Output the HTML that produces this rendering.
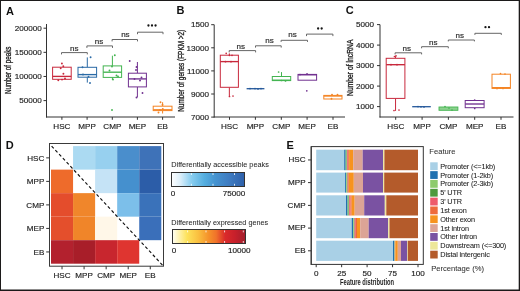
<!DOCTYPE html><html><head><meta charset="utf-8"><style>html,body{margin:0;padding:0;background:#fff;}svg{display:block;will-change:transform;}</style></head><body>
<svg width="520" height="291" viewBox="0 0 520 291" font-family='"Liberation Sans", sans-serif'>
<rect x="0.00" y="0.00" width="520.00" height="291.00" fill="white" stroke="none" stroke-width="1" />
<text x="5.9" y="14.5" font-size="11" font-weight="bold" fill="#111">A</text>
<text x="176.4" y="14.1" font-size="11" font-weight="bold" fill="#111">B</text>
<text x="345.8" y="14.1" font-size="11" font-weight="bold" fill="#111">C</text>
<text x="5.8" y="149.2" font-size="11" font-weight="bold" fill="#111">D</text>
<text x="286.6" y="148.9" font-size="11" font-weight="bold" fill="#111">E</text>
<line x1="46.5" y1="24" x2="46.5" y2="117.5" stroke="#333333" stroke-width="1" />
<line x1="46.0" y1="117" x2="175" y2="117" stroke="#333333" stroke-width="1" />
<line x1="43.5" y1="28.2" x2="46.5" y2="28.2" stroke="#333333" stroke-width="1" />
<text x="41.80" y="30.99" font-size="8.1" text-anchor="end" fill="#262626" font-weight="normal" stroke="#262626" stroke-width="0.18" >200000</text>
<line x1="43.5" y1="52.333333333333336" x2="46.5" y2="52.333333333333336" stroke="#333333" stroke-width="1" />
<text x="41.80" y="55.13" font-size="8.1" text-anchor="end" fill="#262626" font-weight="normal" stroke="#262626" stroke-width="0.18" >150000</text>
<line x1="43.5" y1="76.46666666666667" x2="46.5" y2="76.46666666666667" stroke="#333333" stroke-width="1" />
<text x="41.80" y="79.26" font-size="8.1" text-anchor="end" fill="#262626" font-weight="normal" stroke="#262626" stroke-width="0.18" >100000</text>
<line x1="43.5" y1="100.60000000000001" x2="46.5" y2="100.60000000000001" stroke="#333333" stroke-width="1" />
<text x="41.80" y="103.39" font-size="8.1" text-anchor="end" fill="#262626" font-weight="normal" stroke="#262626" stroke-width="0.18" >50000</text>
<line x1="61.9" y1="117" x2="61.9" y2="119.8" stroke="#333333" stroke-width="1" />
<text x="61.90" y="128.79" font-size="8.1" text-anchor="middle" fill="#262626" font-weight="normal" stroke="#262626" stroke-width="0.18" >HSC</text>
<line x1="87.1" y1="117" x2="87.1" y2="119.8" stroke="#333333" stroke-width="1" />
<text x="87.10" y="128.79" font-size="8.1" text-anchor="middle" fill="#262626" font-weight="normal" stroke="#262626" stroke-width="0.18" >MPP</text>
<line x1="112.3" y1="117" x2="112.3" y2="119.8" stroke="#333333" stroke-width="1" />
<text x="112.30" y="128.79" font-size="8.1" text-anchor="middle" fill="#262626" font-weight="normal" stroke="#262626" stroke-width="0.18" >CMP</text>
<line x1="137.4" y1="117" x2="137.4" y2="119.8" stroke="#333333" stroke-width="1" />
<text x="137.40" y="128.79" font-size="8.1" text-anchor="middle" fill="#262626" font-weight="normal" stroke="#262626" stroke-width="0.18" >MEP</text>
<line x1="162.6" y1="117" x2="162.6" y2="119.8" stroke="#333333" stroke-width="1" />
<text x="162.60" y="128.79" font-size="8.1" text-anchor="middle" fill="#262626" font-weight="normal" stroke="#262626" stroke-width="0.18" >EB</text>
<text transform="translate(11.20,70.30) rotate(-90)" x="0" y="0" font-size="8.2" text-anchor="middle" fill="#1c1c1c" stroke="#1c1c1c" stroke-width="0.3" textLength="47.6" lengthAdjust="spacingAndGlyphs">Number of peaks</text>
<rect x="52.60" y="67.20" width="18.60" height="12.10" fill="white" stroke="#C8283C" stroke-width="1.0" />
<line x1="52.6" y1="76.4" x2="71.2" y2="76.4" stroke="#C8283C" stroke-width="1.35" />
<circle cx="61.9" cy="63.5" r="0.95" fill="#C8283C"/>
<circle cx="63.3" cy="66.3" r="0.95" fill="#C8283C"/>
<circle cx="60.7" cy="68.2" r="0.95" fill="#C8283C"/>
<circle cx="63.4" cy="73.7" r="0.95" fill="#C8283C"/>
<circle cx="58.3" cy="80.2" r="0.95" fill="#C8283C"/>
<circle cx="62" cy="79.6" r="0.95" fill="#C8283C"/>
<circle cx="65" cy="78.5" r="0.95" fill="#C8283C"/>
<line x1="87.3" y1="57.4" x2="87.3" y2="67.3" stroke="#2A6AA6" stroke-width="1.0" />
<line x1="87.3" y1="77.2" x2="87.3" y2="82.6" stroke="#2A6AA6" stroke-width="1.0" />
<rect x="78.00" y="67.30" width="18.60" height="9.90" fill="white" stroke="#2A6AA6" stroke-width="1.0" />
<line x1="78.0" y1="74.6" x2="96.6" y2="74.6" stroke="#2A6AA6" stroke-width="1.35" />
<circle cx="90.6" cy="57.3" r="0.95" fill="#2A6AA6"/>
<circle cx="82.5" cy="67.3" r="0.95" fill="#2A6AA6"/>
<circle cx="83" cy="74.5" r="0.95" fill="#2A6AA6"/>
<circle cx="88.5" cy="76.8" r="0.95" fill="#2A6AA6"/>
<circle cx="90" cy="83" r="0.95" fill="#2A6AA6"/>
<line x1="112.4" y1="55.7" x2="112.4" y2="65.9" stroke="#43B450" stroke-width="1.0" />
<line x1="112.4" y1="77.4" x2="112.4" y2="80.0" stroke="#43B450" stroke-width="1.0" />
<rect x="103.20" y="65.90" width="18.40" height="11.50" fill="white" stroke="#43B450" stroke-width="1.0" />
<line x1="103.2" y1="72.2" x2="121.6" y2="72.2" stroke="#43B450" stroke-width="1.35" />
<circle cx="114.8" cy="55.2" r="0.95" fill="#43B450"/>
<circle cx="112" cy="66.5" r="0.95" fill="#43B450"/>
<circle cx="109.5" cy="70.5" r="0.95" fill="#43B450"/>
<circle cx="116.5" cy="75.5" r="0.95" fill="#43B450"/>
<circle cx="118" cy="76.5" r="0.95" fill="#43B450"/>
<circle cx="113" cy="79.5" r="0.95" fill="#43B450"/>
<circle cx="112" cy="110" r="0.95" fill="#43B450"/>
<line x1="137.4" y1="62.0" x2="137.4" y2="73.2" stroke="#70308F" stroke-width="1.0" />
<line x1="137.4" y1="86.9" x2="137.4" y2="97.3" stroke="#70308F" stroke-width="1.0" />
<rect x="128.40" y="73.20" width="18.00" height="13.70" fill="white" stroke="#70308F" stroke-width="1.0" />
<line x1="128.4" y1="78.9" x2="146.4" y2="78.9" stroke="#70308F" stroke-width="1.35" />
<circle cx="129.7" cy="61" r="0.95" fill="#70308F"/>
<circle cx="136.5" cy="67" r="0.95" fill="#70308F"/>
<circle cx="136" cy="70" r="0.95" fill="#70308F"/>
<circle cx="134.5" cy="79" r="0.95" fill="#70308F"/>
<circle cx="141.5" cy="77.5" r="0.95" fill="#70308F"/>
<circle cx="140" cy="80.5" r="0.95" fill="#70308F"/>
<circle cx="142.5" cy="93" r="0.95" fill="#70308F"/>
<circle cx="136.5" cy="97.5" r="0.95" fill="#70308F"/>
<line x1="162.6" y1="102.2" x2="162.6" y2="106.2" stroke="#F48424" stroke-width="1.0" />
<line x1="162.6" y1="110.6" x2="162.6" y2="113.5" stroke="#F48424" stroke-width="1.0" />
<rect x="153.20" y="106.20" width="18.80" height="4.40" fill="white" stroke="#F48424" stroke-width="1.0" />
<line x1="153.2" y1="109.8" x2="172.0" y2="109.8" stroke="#F48424" stroke-width="1.35" />
<circle cx="160.5" cy="102.3" r="0.95" fill="#F48424"/>
<circle cx="162.5" cy="104.8" r="0.95" fill="#F48424"/>
<circle cx="160" cy="110" r="0.95" fill="#F48424"/>
<circle cx="158.5" cy="112.5" r="0.95" fill="#F48424"/>
<circle cx="162.8" cy="109" r="0.95" fill="#F48424"/>
<path d="M61.5,54.4 L61.5,52.6 L87.3,52.6 L87.3,54.4" fill="none" stroke="#666" stroke-width="1"/>
<text x="74.30" y="50.62" font-size="8.0" text-anchor="middle" fill="#2a2a2a" font-weight="normal" stroke="#2a2a2a" stroke-width="0.18" >ns</text>
<path d="M86.9,47.9 L86.9,45.9 L112.5,45.9 L112.5,47.9" fill="none" stroke="#666" stroke-width="1"/>
<text x="99.00" y="43.62" font-size="8.0" text-anchor="middle" fill="#2a2a2a" font-weight="normal" stroke="#2a2a2a" stroke-width="0.18" >ns</text>
<path d="M112.1,41.4 L112.1,39.5 L137.5,39.5 L137.5,41.4" fill="none" stroke="#666" stroke-width="1"/>
<text x="125.40" y="36.62" font-size="8.0" text-anchor="middle" fill="#2a2a2a" font-weight="normal" stroke="#2a2a2a" stroke-width="0.18" >ns</text>
<path d="M137.5,34.2 L137.5,32.2 L163.0,32.2 L163.0,34.2" fill="none" stroke="#666" stroke-width="1"/>
<circle cx="148.45" cy="25.5" r="1.15" fill="#161616"/>
<circle cx="152.00" cy="25.5" r="1.15" fill="#161616"/>
<circle cx="155.55" cy="25.5" r="1.15" fill="#161616"/>
<line x1="214.2" y1="24.7" x2="214.2" y2="117.5" stroke="#333333" stroke-width="1" />
<line x1="213.7" y1="117" x2="345" y2="117" stroke="#333333" stroke-width="1" />
<line x1="211.2" y1="24.7" x2="214.2" y2="24.7" stroke="#333333" stroke-width="1" />
<text x="208.90" y="27.49" font-size="8.1" text-anchor="end" fill="#262626" font-weight="normal" stroke="#262626" stroke-width="0.18" >1500</text>
<line x1="211.2" y1="47.8" x2="214.2" y2="47.8" stroke="#333333" stroke-width="1" />
<text x="208.90" y="50.59" font-size="8.1" text-anchor="end" fill="#262626" font-weight="normal" stroke="#262626" stroke-width="0.18" >13000</text>
<line x1="211.2" y1="70.9" x2="214.2" y2="70.9" stroke="#333333" stroke-width="1" />
<text x="208.90" y="73.69" font-size="8.1" text-anchor="end" fill="#262626" font-weight="normal" stroke="#262626" stroke-width="0.18" >11000</text>
<line x1="211.2" y1="94.0" x2="214.2" y2="94.0" stroke="#333333" stroke-width="1" />
<text x="208.90" y="96.79" font-size="8.1" text-anchor="end" fill="#262626" font-weight="normal" stroke="#262626" stroke-width="0.18" >9000</text>
<line x1="211.2" y1="117.10000000000001" x2="214.2" y2="117.10000000000001" stroke="#333333" stroke-width="1" />
<text x="208.90" y="119.89" font-size="8.1" text-anchor="end" fill="#262626" font-weight="normal" stroke="#262626" stroke-width="0.18" >7000</text>
<line x1="229.5" y1="117" x2="229.5" y2="119.8" stroke="#333333" stroke-width="1" />
<text x="229.50" y="128.99" font-size="8.1" text-anchor="middle" fill="#262626" font-weight="normal" stroke="#262626" stroke-width="0.18" >HSC</text>
<line x1="255.4" y1="117" x2="255.4" y2="119.8" stroke="#333333" stroke-width="1" />
<text x="255.40" y="128.99" font-size="8.1" text-anchor="middle" fill="#262626" font-weight="normal" stroke="#262626" stroke-width="0.18" >MPP</text>
<line x1="281.3" y1="117" x2="281.3" y2="119.8" stroke="#333333" stroke-width="1" />
<text x="281.30" y="128.99" font-size="8.1" text-anchor="middle" fill="#262626" font-weight="normal" stroke="#262626" stroke-width="0.18" >CMP</text>
<line x1="307.1" y1="117" x2="307.1" y2="119.8" stroke="#333333" stroke-width="1" />
<text x="307.10" y="128.99" font-size="8.1" text-anchor="middle" fill="#262626" font-weight="normal" stroke="#262626" stroke-width="0.18" >MEP</text>
<line x1="333.0" y1="117" x2="333.0" y2="119.8" stroke="#333333" stroke-width="1" />
<text x="333.00" y="128.99" font-size="8.1" text-anchor="middle" fill="#262626" font-weight="normal" stroke="#262626" stroke-width="0.18" >EB</text>
<text transform="translate(184.20,70.80) rotate(-90)" x="0" y="0" font-size="8.2" text-anchor="middle" fill="#1c1c1c" stroke="#1c1c1c" stroke-width="0.3" textLength="82" lengthAdjust="spacingAndGlyphs">Number of genes (FPKM &gt;2)</text>
<line x1="229.35000000000002" y1="53.4" x2="229.35000000000002" y2="55.2" stroke="#C8283C" stroke-width="1.0" />
<line x1="229.35000000000002" y1="87.3" x2="229.35000000000002" y2="96.5" stroke="#C8283C" stroke-width="1.0" />
<rect x="220.30" y="55.20" width="18.10" height="32.10" fill="white" stroke="#C8283C" stroke-width="1.0" />
<line x1="220.3" y1="61.6" x2="238.4" y2="61.6" stroke="#C8283C" stroke-width="1.35" />
<circle cx="226.2" cy="53.3" r="0.85" fill="#C8283C"/>
<circle cx="229.4" cy="55.3" r="0.85" fill="#C8283C"/>
<circle cx="232" cy="55.3" r="0.85" fill="#C8283C"/>
<circle cx="225.5" cy="61.7" r="0.85" fill="#C8283C"/>
<circle cx="231" cy="61.7" r="0.85" fill="#C8283C"/>
<circle cx="229.5" cy="96.5" r="0.85" fill="#C8283C"/>
<circle cx="233" cy="96" r="0.85" fill="#C8283C"/>
<line x1="246.6" y1="88.7" x2="264.4" y2="88.7" stroke="#24589A" stroke-width="1.3" />
<circle cx="250" cy="88.6" r="0.85" fill="#24589A"/>
<circle cx="255" cy="88.6" r="0.85" fill="#24589A"/>
<circle cx="258" cy="89" r="0.85" fill="#24589A"/>
<circle cx="261" cy="88.6" r="0.85" fill="#24589A"/>
<line x1="281.5" y1="72.1" x2="281.5" y2="76.5" stroke="#43B450" stroke-width="1.0" />
<rect x="272.30" y="76.50" width="18.40" height="4.10" fill="white" stroke="#43B450" stroke-width="1.0" />
<line x1="272.3" y1="80.2" x2="290.7" y2="80.2" stroke="#43B450" stroke-width="1.35" />
<circle cx="278.6" cy="72" r="0.85" fill="#43B450"/>
<circle cx="285.5" cy="81" r="0.85" fill="#43B450"/>
<circle cx="281.5" cy="80.5" r="0.85" fill="#43B450"/>
<line x1="307.3" y1="73.3" x2="307.3" y2="74.4" stroke="#70308F" stroke-width="1.0" />
<rect x="298.00" y="74.40" width="18.60" height="5.80" fill="white" stroke="#70308F" stroke-width="1.0" />
<line x1="298.0" y1="74.8" x2="316.6" y2="74.8" stroke="#70308F" stroke-width="1.35" />
<circle cx="306.8" cy="90.8" r="0.85" fill="#70308F"/>
<circle cx="306.8" cy="74.2" r="0.85" fill="#70308F"/>
<circle cx="300" cy="74.6" r="0.85" fill="#70308F"/>
<rect x="323.80" y="95.40" width="18.20" height="3.60" fill="white" stroke="#F48424" stroke-width="1.0" />
<line x1="323.8" y1="96.0" x2="342.0" y2="96.0" stroke="#F48424" stroke-width="1.35" />
<circle cx="332" cy="94.8" r="0.95" fill="#F48424"/>
<circle cx="337.5" cy="94.8" r="0.95" fill="#F48424"/>
<circle cx="331.5" cy="98.8" r="0.95" fill="#F48424"/>
<path d="M229.2,52.4 L229.2,50.6 L255.6,50.6 L255.6,52.4" fill="none" stroke="#666" stroke-width="1"/>
<text x="240.80" y="49.12" font-size="8.0" text-anchor="middle" fill="#2a2a2a" font-weight="normal" stroke="#2a2a2a" stroke-width="0.18" >ns</text>
<path d="M255.5,47.599999999999994 L255.5,45.8 L281.2,45.8 L281.2,47.599999999999994" fill="none" stroke="#666" stroke-width="1"/>
<text x="269.60" y="43.32" font-size="8.0" text-anchor="middle" fill="#2a2a2a" font-weight="normal" stroke="#2a2a2a" stroke-width="0.18" >ns</text>
<path d="M281.1,41.9 L281.1,40.3 L307.5,40.3 L307.5,41.9" fill="none" stroke="#666" stroke-width="1"/>
<text x="292.60" y="36.72" font-size="8.0" text-anchor="middle" fill="#2a2a2a" font-weight="normal" stroke="#2a2a2a" stroke-width="0.18" >ns</text>
<path d="M306.5,36.1 L306.5,34.1 L332.9,34.1 L332.9,36.1" fill="none" stroke="#666" stroke-width="1"/>
<circle cx="318.12" cy="28.5" r="1.15" fill="#161616"/>
<circle cx="321.67" cy="28.5" r="1.15" fill="#161616"/>
<line x1="380.0" y1="24.6" x2="380.0" y2="117.5" stroke="#333333" stroke-width="1" />
<line x1="379.5" y1="117" x2="513.5" y2="117" stroke="#333333" stroke-width="1" />
<line x1="377.0" y1="24.6" x2="380.0" y2="24.6" stroke="#333333" stroke-width="1" />
<text x="374.10" y="27.39" font-size="8.1" text-anchor="end" fill="#262626" font-weight="normal" stroke="#262626" stroke-width="0.18" >5000</text>
<line x1="377.0" y1="45.1" x2="380.0" y2="45.1" stroke="#333333" stroke-width="1" />
<text x="374.10" y="47.89" font-size="8.1" text-anchor="end" fill="#262626" font-weight="normal" stroke="#262626" stroke-width="0.18" >4000</text>
<line x1="377.0" y1="65.6" x2="380.0" y2="65.6" stroke="#333333" stroke-width="1" />
<text x="374.10" y="68.39" font-size="8.1" text-anchor="end" fill="#262626" font-weight="normal" stroke="#262626" stroke-width="0.18" >3000</text>
<line x1="377.0" y1="86.1" x2="380.0" y2="86.1" stroke="#333333" stroke-width="1" />
<text x="374.10" y="88.89" font-size="8.1" text-anchor="end" fill="#262626" font-weight="normal" stroke="#262626" stroke-width="0.18" >2000</text>
<line x1="377.0" y1="106.6" x2="380.0" y2="106.6" stroke="#333333" stroke-width="1" />
<text x="374.10" y="109.39" font-size="8.1" text-anchor="end" fill="#262626" font-weight="normal" stroke="#262626" stroke-width="0.18" >1000</text>
<line x1="395.7" y1="117" x2="395.7" y2="119.8" stroke="#333333" stroke-width="1" />
<text x="395.70" y="128.99" font-size="8.1" text-anchor="middle" fill="#262626" font-weight="normal" stroke="#262626" stroke-width="0.18" >HSC</text>
<line x1="422.1" y1="117" x2="422.1" y2="119.8" stroke="#333333" stroke-width="1" />
<text x="422.10" y="128.99" font-size="8.1" text-anchor="middle" fill="#262626" font-weight="normal" stroke="#262626" stroke-width="0.18" >MPP</text>
<line x1="448.4" y1="117" x2="448.4" y2="119.8" stroke="#333333" stroke-width="1" />
<text x="448.40" y="128.99" font-size="8.1" text-anchor="middle" fill="#262626" font-weight="normal" stroke="#262626" stroke-width="0.18" >CMP</text>
<line x1="474.7" y1="117" x2="474.7" y2="119.8" stroke="#333333" stroke-width="1" />
<text x="474.70" y="128.99" font-size="8.1" text-anchor="middle" fill="#262626" font-weight="normal" stroke="#262626" stroke-width="0.18" >MEP</text>
<line x1="501.0" y1="117" x2="501.0" y2="119.8" stroke="#333333" stroke-width="1" />
<text x="501.00" y="128.99" font-size="8.1" text-anchor="middle" fill="#262626" font-weight="normal" stroke="#262626" stroke-width="0.18" >EB</text>
<text transform="translate(352.60,67.75) rotate(-90)" x="0" y="0" font-size="8.2" text-anchor="middle" fill="#1c1c1c" stroke="#1c1c1c" stroke-width="0.3" textLength="56.5" lengthAdjust="spacingAndGlyphs">Number of lncRNA</text>
<line x1="395.54999999999995" y1="56.2" x2="395.54999999999995" y2="58.3" stroke="#C8283C" stroke-width="1.0" />
<line x1="395.54999999999995" y1="98.4" x2="395.54999999999995" y2="110.9" stroke="#C8283C" stroke-width="1.0" />
<rect x="386.20" y="58.30" width="18.70" height="40.10" fill="white" stroke="#C8283C" stroke-width="1.0" />
<line x1="386.2" y1="64.7" x2="404.9" y2="64.7" stroke="#C8283C" stroke-width="1.35" />
<circle cx="396" cy="55.8" r="0.85" fill="#C8283C"/>
<circle cx="394.5" cy="56.5" r="0.85" fill="#C8283C"/>
<circle cx="394" cy="110.5" r="0.85" fill="#C8283C"/>
<circle cx="399" cy="110" r="0.85" fill="#C8283C"/>
<circle cx="391" cy="64.7" r="0.85" fill="#C8283C"/>
<circle cx="397" cy="64.7" r="0.85" fill="#C8283C"/>
<line x1="412.2" y1="106.7" x2="430.8" y2="106.7" stroke="#24589A" stroke-width="1.3" />
<circle cx="418" cy="106.6" r="0.85" fill="#24589A"/>
<circle cx="421" cy="106.8" r="0.85" fill="#24589A"/>
<circle cx="424" cy="107" r="0.85" fill="#24589A"/>
<rect x="439.00" y="107.00" width="18.90" height="3.30" fill="#8CD18F" stroke="#43B450" stroke-width="0.9" />
<circle cx="445" cy="106.5" r="0.85" fill="#43B450"/>
<circle cx="449" cy="108" r="0.85" fill="#43B450"/>
<circle cx="452" cy="110" r="0.85" fill="#43B450"/>
<line x1="474.65" y1="100.3" x2="474.65" y2="100.5" stroke="#70308F" stroke-width="1.0" />
<rect x="465.20" y="100.50" width="18.90" height="7.20" fill="white" stroke="#70308F" stroke-width="1.0" />
<line x1="465.2" y1="104.0" x2="484.1" y2="104.0" stroke="#70308F" stroke-width="1.35" />
<circle cx="474.7" cy="100" r="0.85" fill="#70308F"/>
<circle cx="474.7" cy="108.5" r="0.85" fill="#70308F"/>
<rect x="492.00" y="74.20" width="18.40" height="14.20" fill="white" stroke="#F48424" stroke-width="1.0" />
<line x1="492.0" y1="87.7" x2="510.4" y2="87.7" stroke="#F48424" stroke-width="1.35" />
<circle cx="500.5" cy="73.5" r="0.85" fill="#F48424"/>
<circle cx="505" cy="74" r="0.85" fill="#F48424"/>
<circle cx="497" cy="88.6" r="0.85" fill="#F48424"/>
<circle cx="500" cy="88" r="0.85" fill="#F48424"/>
<circle cx="503" cy="88.5" r="0.85" fill="#F48424"/>
<path d="M395.1,54.4 L395.1,52.8 L421.6,52.8 L421.6,54.4" fill="none" stroke="#666" stroke-width="1"/>
<text x="406.80" y="51.02" font-size="8.0" text-anchor="middle" fill="#2a2a2a" font-weight="normal" stroke="#2a2a2a" stroke-width="0.18" >ns</text>
<path d="M421.6,48.300000000000004 L421.6,46.7 L448.3,46.7 L448.3,48.300000000000004" fill="none" stroke="#666" stroke-width="1"/>
<text x="433.20" y="44.72" font-size="8.0" text-anchor="middle" fill="#2a2a2a" font-weight="normal" stroke="#2a2a2a" stroke-width="0.18" >ns</text>
<path d="M448.3,41.4 L448.3,40.0 L474.4,40.0 L474.4,41.4" fill="none" stroke="#666" stroke-width="1"/>
<text x="459.70" y="37.82" font-size="8.0" text-anchor="middle" fill="#2a2a2a" font-weight="normal" stroke="#2a2a2a" stroke-width="0.18" >ns</text>
<path d="M474.9,34.9 L474.9,33.3 L501.3,33.3 L501.3,34.9" fill="none" stroke="#666" stroke-width="1"/>
<circle cx="485.48" cy="27.2" r="1.15" fill="#161616"/>
<circle cx="489.02" cy="27.2" r="1.15" fill="#161616"/>
<rect x="73.06" y="146.10" width="22.06" height="23.52" fill="#ABDAF2" stroke="none" stroke-width="1" />
<rect x="95.12" y="146.10" width="22.06" height="23.52" fill="#97D0EF" stroke="none" stroke-width="1" />
<rect x="117.18" y="146.10" width="22.06" height="23.52" fill="#4A8ECC" stroke="none" stroke-width="1" />
<rect x="139.24" y="146.10" width="22.06" height="23.52" fill="#3E72B8" stroke="none" stroke-width="1" />
<rect x="51.00" y="169.62" width="22.06" height="23.52" fill="#EE6B2B" stroke="none" stroke-width="1" />
<rect x="95.12" y="169.62" width="22.06" height="23.52" fill="#C5E3F6" stroke="none" stroke-width="1" />
<rect x="117.18" y="169.62" width="22.06" height="23.52" fill="#4590CE" stroke="none" stroke-width="1" />
<rect x="139.24" y="169.62" width="22.06" height="23.52" fill="#2C5DA8" stroke="none" stroke-width="1" />
<rect x="51.00" y="193.14" width="22.06" height="23.52" fill="#E44D2C" stroke="none" stroke-width="1" />
<rect x="73.06" y="193.14" width="22.06" height="23.52" fill="#F0862B" stroke="none" stroke-width="1" />
<rect x="117.18" y="193.14" width="22.06" height="23.52" fill="#7CBFEA" stroke="none" stroke-width="1" />
<rect x="139.24" y="193.14" width="22.06" height="23.52" fill="#3A72BA" stroke="none" stroke-width="1" />
<rect x="51.00" y="216.66" width="22.06" height="23.52" fill="#E44F2C" stroke="none" stroke-width="1" />
<rect x="73.06" y="216.66" width="22.06" height="23.52" fill="#F08529" stroke="none" stroke-width="1" />
<rect x="95.12" y="216.66" width="22.06" height="23.52" fill="#FFF7E8" stroke="none" stroke-width="1" />
<rect x="139.24" y="216.66" width="22.06" height="23.52" fill="#3A6FBA" stroke="none" stroke-width="1" />
<rect x="51.00" y="240.18" width="22.06" height="23.52" fill="#B3212E" stroke="none" stroke-width="1" />
<rect x="73.06" y="240.18" width="22.06" height="23.52" fill="#A81E29" stroke="none" stroke-width="1" />
<rect x="95.12" y="240.18" width="22.06" height="23.52" fill="#C8262E" stroke="none" stroke-width="1" />
<rect x="117.18" y="240.18" width="22.06" height="23.52" fill="#DF3530" stroke="none" stroke-width="1" />
<line x1="51.6" y1="146.1" x2="162.5" y2="265.1" stroke="#111" stroke-width="1.15" stroke-dasharray="3.1,2.4"/>
<rect x="49.50" y="143.50" width="114.00" height="122.70" fill="none" stroke="#3a3a3a" stroke-width="1" />
<line x1="46.2" y1="157.86" x2="49.5" y2="157.86" stroke="#333333" stroke-width="1" />
<text x="44.30" y="160.65" font-size="8.1" text-anchor="end" fill="#262626" font-weight="normal" stroke="#262626" stroke-width="0.18" >HSC</text>
<line x1="62.03" y1="266.2" x2="62.03" y2="269.3" stroke="#333333" stroke-width="1" />
<text x="62.03" y="277.99" font-size="8.1" text-anchor="middle" fill="#262626" font-weight="normal" stroke="#262626" stroke-width="0.18" >HSC</text>
<line x1="46.2" y1="181.38" x2="49.5" y2="181.38" stroke="#333333" stroke-width="1" />
<text x="44.30" y="184.17" font-size="8.1" text-anchor="end" fill="#262626" font-weight="normal" stroke="#262626" stroke-width="0.18" >MPP</text>
<line x1="84.09" y1="266.2" x2="84.09" y2="269.3" stroke="#333333" stroke-width="1" />
<text x="84.09" y="277.99" font-size="8.1" text-anchor="middle" fill="#262626" font-weight="normal" stroke="#262626" stroke-width="0.18" >MPP</text>
<line x1="46.2" y1="204.89999999999998" x2="49.5" y2="204.89999999999998" stroke="#333333" stroke-width="1" />
<text x="44.30" y="207.69" font-size="8.1" text-anchor="end" fill="#262626" font-weight="normal" stroke="#262626" stroke-width="0.18" >CMP</text>
<line x1="106.15" y1="266.2" x2="106.15" y2="269.3" stroke="#333333" stroke-width="1" />
<text x="106.15" y="277.99" font-size="8.1" text-anchor="middle" fill="#262626" font-weight="normal" stroke="#262626" stroke-width="0.18" >CMP</text>
<line x1="46.2" y1="228.42000000000002" x2="49.5" y2="228.42000000000002" stroke="#333333" stroke-width="1" />
<text x="44.30" y="231.21" font-size="8.1" text-anchor="end" fill="#262626" font-weight="normal" stroke="#262626" stroke-width="0.18" >MEP</text>
<line x1="128.21" y1="266.2" x2="128.21" y2="269.3" stroke="#333333" stroke-width="1" />
<text x="128.21" y="277.99" font-size="8.1" text-anchor="middle" fill="#262626" font-weight="normal" stroke="#262626" stroke-width="0.18" >MEP</text>
<line x1="46.2" y1="251.94" x2="49.5" y2="251.94" stroke="#333333" stroke-width="1" />
<text x="44.30" y="254.73" font-size="8.1" text-anchor="end" fill="#262626" font-weight="normal" stroke="#262626" stroke-width="0.18" >EB</text>
<line x1="150.27" y1="266.2" x2="150.27" y2="269.3" stroke="#333333" stroke-width="1" />
<text x="150.27" y="277.99" font-size="8.1" text-anchor="middle" fill="#262626" font-weight="normal" stroke="#262626" stroke-width="0.18" >EB</text>
<defs><linearGradient id="gb" x1="0" x2="1" y1="0" y2="0"><stop offset="0" stop-color="#FFFFFF"/><stop offset="0.12" stop-color="#DCEFFA"/><stop offset="0.27" stop-color="#8ACEF0"/><stop offset="0.45" stop-color="#55AEDF"/><stop offset="0.6" stop-color="#4593D0"/><stop offset="0.78" stop-color="#3F7DC2"/><stop offset="1" stop-color="#2E60AA"/></linearGradient><linearGradient id="gr" x1="0" x2="1" y1="0" y2="0"><stop offset="0" stop-color="#FFFFF5"/><stop offset="0.2" stop-color="#FDE25A"/><stop offset="0.35" stop-color="#FAC040"/><stop offset="0.5" stop-color="#F5902A"/><stop offset="0.6" stop-color="#F0722A"/><stop offset="0.72" stop-color="#DA2A2A"/><stop offset="0.85" stop-color="#C8202B"/><stop offset="1" stop-color="#A21E2C"/></linearGradient></defs>
<text x="171.30" y="166.89" font-size="8.1" text-anchor="start" fill="#2a2a2a" font-weight="normal" stroke="#2a2a2a" stroke-width="0.06" textLength="97.5" lengthAdjust="spacingAndGlyphs">Differentially accessible peaks</text>
<rect x="171.50" y="172.50" width="73.00" height="14.00" fill="url(#gb)" stroke="#333" stroke-width="1" />
<line x1="191.4" y1="173.1" x2="191.4" y2="175" stroke="white" stroke-width="0.8" />
<line x1="191.4" y1="183.8" x2="191.4" y2="185.7" stroke="white" stroke-width="0.8" />
<line x1="213.0" y1="173.1" x2="213.0" y2="175" stroke="white" stroke-width="0.8" />
<line x1="213.0" y1="183.8" x2="213.0" y2="185.7" stroke="white" stroke-width="0.8" />
<line x1="234.5" y1="173.1" x2="234.5" y2="175" stroke="white" stroke-width="0.8" />
<line x1="234.5" y1="183.8" x2="234.5" y2="185.7" stroke="white" stroke-width="0.8" />
<text x="172.90" y="196.29" font-size="8.1" text-anchor="middle" fill="#262626" font-weight="normal" stroke="#262626" stroke-width="0.18" >0</text>
<text x="245.30" y="196.29" font-size="8.1" text-anchor="end" fill="#262626" font-weight="normal" stroke="#262626" stroke-width="0.18" >75000</text>
<text x="171.30" y="225.49" font-size="8.1" text-anchor="start" fill="#2a2a2a" font-weight="normal" stroke="#2a2a2a" stroke-width="0.06" textLength="96.8" lengthAdjust="spacingAndGlyphs">Differentially expressed genes</text>
<rect x="172.50" y="229.50" width="73.00" height="14.00" fill="url(#gr)" stroke="#333" stroke-width="1" />
<line x1="187.6" y1="230.5" x2="187.6" y2="232.4" stroke="white" stroke-width="0.8" />
<line x1="187.6" y1="241.0" x2="187.6" y2="242.9" stroke="white" stroke-width="0.8" />
<line x1="206.0" y1="230.5" x2="206.0" y2="232.4" stroke="white" stroke-width="0.8" />
<line x1="206.0" y1="241.0" x2="206.0" y2="242.9" stroke="white" stroke-width="0.8" />
<line x1="224.6" y1="230.5" x2="224.6" y2="232.4" stroke="white" stroke-width="0.8" />
<line x1="224.6" y1="241.0" x2="224.6" y2="242.9" stroke="white" stroke-width="0.8" />
<line x1="243.3" y1="230.5" x2="243.3" y2="232.4" stroke="white" stroke-width="0.8" />
<line x1="243.3" y1="241.0" x2="243.3" y2="242.9" stroke="white" stroke-width="0.8" />
<text x="174.10" y="253.29" font-size="8.1" text-anchor="middle" fill="#262626" font-weight="normal" stroke="#262626" stroke-width="0.18" >0</text>
<text x="250.40" y="253.29" font-size="8.1" text-anchor="end" fill="#262626" font-weight="normal" stroke="#262626" stroke-width="0.18" >10000</text>
<rect x="316.20" y="149.70" width="28.00" height="20.50" fill="#A9D0E6" stroke="none" stroke-width="1" />
<rect x="344.20" y="149.70" width="1.50" height="20.50" fill="#2171B0" stroke="none" stroke-width="1" />
<rect x="345.70" y="149.70" width="0.90" height="20.50" fill="#8DCB6D" stroke="none" stroke-width="1" />
<rect x="346.60" y="149.70" width="0.60" height="20.50" fill="#4E9A3E" stroke="none" stroke-width="1" />
<rect x="347.20" y="149.70" width="1.00" height="20.50" fill="#EE5B6B" stroke="none" stroke-width="1" />
<rect x="348.20" y="149.70" width="0.90" height="20.50" fill="#EE6A3B" stroke="none" stroke-width="1" />
<rect x="349.10" y="149.70" width="4.10" height="20.50" fill="#F7931E" stroke="none" stroke-width="1" />
<rect x="353.20" y="149.70" width="9.50" height="20.50" fill="#DCA496" stroke="none" stroke-width="1" />
<rect x="362.70" y="149.70" width="20.40" height="20.50" fill="#7A52A2" stroke="none" stroke-width="1" />
<rect x="383.10" y="149.70" width="1.30" height="20.50" fill="#EDE79A" stroke="none" stroke-width="1" />
<rect x="384.40" y="149.70" width="33.60" height="20.50" fill="#B45B2B" stroke="none" stroke-width="1" />
<rect x="316.20" y="172.60" width="28.90" height="20.00" fill="#A9D0E6" stroke="none" stroke-width="1" />
<rect x="345.10" y="172.60" width="1.10" height="20.00" fill="#2171B0" stroke="none" stroke-width="1" />
<rect x="346.20" y="172.60" width="0.80" height="20.00" fill="#8DCB6D" stroke="none" stroke-width="1" />
<rect x="347.00" y="172.60" width="0.50" height="20.00" fill="#4E9A3E" stroke="none" stroke-width="1" />
<rect x="347.50" y="172.60" width="0.80" height="20.00" fill="#EE5B6B" stroke="none" stroke-width="1" />
<rect x="348.30" y="172.60" width="0.70" height="20.00" fill="#EE6A3B" stroke="none" stroke-width="1" />
<rect x="349.00" y="172.60" width="4.80" height="20.00" fill="#F7931E" stroke="none" stroke-width="1" />
<rect x="353.80" y="172.60" width="9.20" height="20.00" fill="#DCA496" stroke="none" stroke-width="1" />
<rect x="363.00" y="172.60" width="20.10" height="20.00" fill="#7A52A2" stroke="none" stroke-width="1" />
<rect x="383.10" y="172.60" width="1.10" height="20.00" fill="#EDE79A" stroke="none" stroke-width="1" />
<rect x="384.20" y="172.60" width="33.80" height="20.00" fill="#B45B2B" stroke="none" stroke-width="1" />
<rect x="316.20" y="195.30" width="29.80" height="20.20" fill="#A9D0E6" stroke="none" stroke-width="1" />
<rect x="346.00" y="195.30" width="1.60" height="20.20" fill="#2171B0" stroke="none" stroke-width="1" />
<rect x="347.60" y="195.30" width="0.90" height="20.20" fill="#8DCB6D" stroke="none" stroke-width="1" />
<rect x="348.50" y="195.30" width="0.70" height="20.20" fill="#4E9A3E" stroke="none" stroke-width="1" />
<rect x="349.20" y="195.30" width="1.30" height="20.20" fill="#EE5B6B" stroke="none" stroke-width="1" />
<rect x="350.50" y="195.30" width="1.20" height="20.20" fill="#EE6A3B" stroke="none" stroke-width="1" />
<rect x="351.70" y="195.30" width="3.00" height="20.20" fill="#F7931E" stroke="none" stroke-width="1" />
<rect x="354.70" y="195.30" width="9.50" height="20.20" fill="#DCA496" stroke="none" stroke-width="1" />
<rect x="364.20" y="195.30" width="20.60" height="20.20" fill="#7A52A2" stroke="none" stroke-width="1" />
<rect x="384.80" y="195.30" width="1.50" height="20.20" fill="#EDE79A" stroke="none" stroke-width="1" />
<rect x="386.30" y="195.30" width="31.70" height="20.20" fill="#B45B2B" stroke="none" stroke-width="1" />
<rect x="316.20" y="218.00" width="35.50" height="20.20" fill="#A9D0E6" stroke="none" stroke-width="1" />
<rect x="351.70" y="218.00" width="1.50" height="20.20" fill="#2171B0" stroke="none" stroke-width="1" />
<rect x="353.20" y="218.00" width="0.80" height="20.20" fill="#8DCB6D" stroke="none" stroke-width="1" />
<rect x="354.00" y="218.00" width="0.50" height="20.20" fill="#4E9A3E" stroke="none" stroke-width="1" />
<rect x="354.50" y="218.00" width="1.30" height="20.20" fill="#EE5B6B" stroke="none" stroke-width="1" />
<rect x="355.80" y="218.00" width="1.20" height="20.20" fill="#EE6A3B" stroke="none" stroke-width="1" />
<rect x="357.00" y="218.00" width="3.20" height="20.20" fill="#F7931E" stroke="none" stroke-width="1" />
<rect x="360.20" y="218.00" width="8.50" height="20.20" fill="#DCA496" stroke="none" stroke-width="1" />
<rect x="368.70" y="218.00" width="19.50" height="20.20" fill="#7A52A2" stroke="none" stroke-width="1" />
<rect x="388.20" y="218.00" width="1.30" height="20.20" fill="#EDE79A" stroke="none" stroke-width="1" />
<rect x="389.50" y="218.00" width="28.50" height="20.20" fill="#B45B2B" stroke="none" stroke-width="1" />
<rect x="316.20" y="240.70" width="76.80" height="20.20" fill="#A9D0E6" stroke="none" stroke-width="1" />
<rect x="393.00" y="240.70" width="1.20" height="20.20" fill="#2171B0" stroke="none" stroke-width="1" />
<rect x="394.20" y="240.70" width="0.40" height="20.20" fill="#8DCB6D" stroke="none" stroke-width="1" />
<rect x="394.60" y="240.70" width="0.20" height="20.20" fill="#4E9A3E" stroke="none" stroke-width="1" />
<rect x="394.80" y="240.70" width="0.20" height="20.20" fill="#EE5B6B" stroke="none" stroke-width="1" />
<rect x="395.00" y="240.70" width="0.30" height="20.20" fill="#EE6A3B" stroke="none" stroke-width="1" />
<rect x="395.30" y="240.70" width="2.50" height="20.20" fill="#F7931E" stroke="none" stroke-width="1" />
<rect x="397.80" y="240.70" width="3.20" height="20.20" fill="#DCA496" stroke="none" stroke-width="1" />
<rect x="401.00" y="240.70" width="6.20" height="20.20" fill="#7A52A2" stroke="none" stroke-width="1" />
<rect x="407.20" y="240.70" width="0.60" height="20.20" fill="#EDE79A" stroke="none" stroke-width="1" />
<rect x="407.80" y="240.70" width="10.20" height="20.20" fill="#B45B2B" stroke="none" stroke-width="1" />
<line x1="311.2" y1="146.6" x2="311.2" y2="264.9" stroke="#333333" stroke-width="1" />
<rect x="311.2" y="146.6" width="112.1" height="117.8" fill="none" stroke="#333333" stroke-width="1"/>
<line x1="308.0" y1="159.95" x2="311.2" y2="159.95" stroke="#333333" stroke-width="1" />
<text x="305.60" y="162.34" font-size="8.1" text-anchor="end" fill="#262626" font-weight="normal" stroke="#262626" stroke-width="0.18" >HSC</text>
<line x1="308.0" y1="182.6" x2="311.2" y2="182.6" stroke="#333333" stroke-width="1" />
<text x="305.60" y="184.99" font-size="8.1" text-anchor="end" fill="#262626" font-weight="normal" stroke="#262626" stroke-width="0.18" >MPP</text>
<line x1="308.0" y1="205.4" x2="311.2" y2="205.4" stroke="#333333" stroke-width="1" />
<text x="305.60" y="207.79" font-size="8.1" text-anchor="end" fill="#262626" font-weight="normal" stroke="#262626" stroke-width="0.18" >CMP</text>
<line x1="308.0" y1="228.1" x2="311.2" y2="228.1" stroke="#333333" stroke-width="1" />
<text x="305.60" y="230.49" font-size="8.1" text-anchor="end" fill="#262626" font-weight="normal" stroke="#262626" stroke-width="0.18" >MEP</text>
<line x1="308.0" y1="250.79999999999998" x2="311.2" y2="250.79999999999998" stroke="#333333" stroke-width="1" />
<text x="305.60" y="253.19" font-size="8.1" text-anchor="end" fill="#262626" font-weight="normal" stroke="#262626" stroke-width="0.18" >EB</text>
<line x1="316.2" y1="264.4" x2="316.2" y2="267.2" stroke="#333333" stroke-width="1" />
<text x="316.20" y="275.99" font-size="8.1" text-anchor="middle" fill="#262626" font-weight="normal" stroke="#262626" stroke-width="0.18" >0</text>
<line x1="341.65" y1="264.4" x2="341.65" y2="267.2" stroke="#333333" stroke-width="1" />
<text x="341.65" y="275.99" font-size="8.1" text-anchor="middle" fill="#262626" font-weight="normal" stroke="#262626" stroke-width="0.18" >25</text>
<line x1="367.1" y1="264.4" x2="367.1" y2="267.2" stroke="#333333" stroke-width="1" />
<text x="367.10" y="275.99" font-size="8.1" text-anchor="middle" fill="#262626" font-weight="normal" stroke="#262626" stroke-width="0.18" >50</text>
<line x1="392.55" y1="264.4" x2="392.55" y2="267.2" stroke="#333333" stroke-width="1" />
<text x="392.55" y="275.99" font-size="8.1" text-anchor="middle" fill="#262626" font-weight="normal" stroke="#262626" stroke-width="0.18" >75</text>
<line x1="418.0" y1="264.4" x2="418.0" y2="267.2" stroke="#333333" stroke-width="1" />
<text x="418.00" y="275.99" font-size="8.1" text-anchor="middle" fill="#262626" font-weight="normal" stroke="#262626" stroke-width="0.18" >100</text>
<text x="367" y="285.4" font-size="8.2" text-anchor="middle" fill="#1c1c1c" font-weight="bold" textLength="54" lengthAdjust="spacingAndGlyphs">Feature distribution</text>
<text x="429.30" y="153.92" font-size="7.6" text-anchor="start" fill="#333" font-weight="normal" stroke="#333" stroke-width="0.06" >Feature</text>
<rect x="430.20" y="162.30" width="7.50" height="7.80" fill="#A9D0E6" stroke="none" stroke-width="1" />
<text x="440.30" y="168.72" font-size="7.3" text-anchor="start" fill="#222" font-weight="normal" stroke="#222" stroke-width="0.06" letter-spacing="-0.15">Promoter (&lt;=1kb)</text>
<rect x="430.20" y="171.14" width="7.50" height="7.80" fill="#2171B0" stroke="none" stroke-width="1" />
<text x="440.30" y="177.56" font-size="7.3" text-anchor="start" fill="#222" font-weight="normal" stroke="#222" stroke-width="0.06" letter-spacing="-0.15">Promoter (1-2kb)</text>
<rect x="430.20" y="179.98" width="7.50" height="7.80" fill="#8DCB6D" stroke="none" stroke-width="1" />
<text x="440.30" y="186.40" font-size="7.3" text-anchor="start" fill="#222" font-weight="normal" stroke="#222" stroke-width="0.06" letter-spacing="-0.15">Promoter (2-3kb)</text>
<rect x="430.20" y="188.82" width="7.50" height="7.80" fill="#4E9A3E" stroke="none" stroke-width="1" />
<text x="440.30" y="195.24" font-size="7.3" text-anchor="start" fill="#222" font-weight="normal" stroke="#222" stroke-width="0.06" letter-spacing="-0.15">5' UTR</text>
<rect x="430.20" y="197.66" width="7.50" height="7.80" fill="#EE5B6B" stroke="none" stroke-width="1" />
<text x="440.30" y="204.08" font-size="7.3" text-anchor="start" fill="#222" font-weight="normal" stroke="#222" stroke-width="0.06" letter-spacing="-0.15">3' UTR</text>
<rect x="430.20" y="206.50" width="7.50" height="7.80" fill="#EE6A3B" stroke="none" stroke-width="1" />
<text x="440.30" y="212.92" font-size="7.3" text-anchor="start" fill="#222" font-weight="normal" stroke="#222" stroke-width="0.06" letter-spacing="-0.15">1st exon</text>
<rect x="430.20" y="215.34" width="7.50" height="7.80" fill="#F7931E" stroke="none" stroke-width="1" />
<text x="440.30" y="221.76" font-size="7.3" text-anchor="start" fill="#222" font-weight="normal" stroke="#222" stroke-width="0.06" letter-spacing="-0.15">Other exon</text>
<rect x="430.20" y="224.18" width="7.50" height="7.80" fill="#DCA496" stroke="none" stroke-width="1" />
<text x="440.30" y="230.60" font-size="7.3" text-anchor="start" fill="#222" font-weight="normal" stroke="#222" stroke-width="0.06" letter-spacing="-0.15">1st intron</text>
<rect x="430.20" y="233.02" width="7.50" height="7.80" fill="#7A52A2" stroke="none" stroke-width="1" />
<text x="440.30" y="239.44" font-size="7.3" text-anchor="start" fill="#222" font-weight="normal" stroke="#222" stroke-width="0.06" letter-spacing="-0.15">Other intron</text>
<rect x="430.20" y="241.86" width="7.50" height="7.80" fill="#EDE79A" stroke="none" stroke-width="1" />
<text x="440.30" y="248.28" font-size="7.3" text-anchor="start" fill="#222" font-weight="normal" stroke="#222" stroke-width="0.06" letter-spacing="-0.15">Downstream (&lt;=300)</text>
<rect x="430.20" y="250.70" width="7.50" height="7.80" fill="#B45B2B" stroke="none" stroke-width="1" />
<text x="440.30" y="257.12" font-size="7.3" text-anchor="start" fill="#222" font-weight="normal" stroke="#222" stroke-width="0.06" letter-spacing="-0.15">Distal intergenic</text>
<text x="431.20" y="270.92" font-size="7.6" text-anchor="start" fill="#333" font-weight="normal" stroke="#333" stroke-width="0.06" >Percentage (%)</text>
<rect x="0" y="0" width="520" height="1" fill="#1c1a1a"/>
<rect x="0" y="0" width="1" height="291" fill="#1c1a1a"/>
<rect x="518.7" y="0" width="1.3" height="291" fill="#1c1a1a"/>
<rect x="0" y="289.5" width="520" height="1.5" fill="#1c1a1a"/>
</svg></body></html>
